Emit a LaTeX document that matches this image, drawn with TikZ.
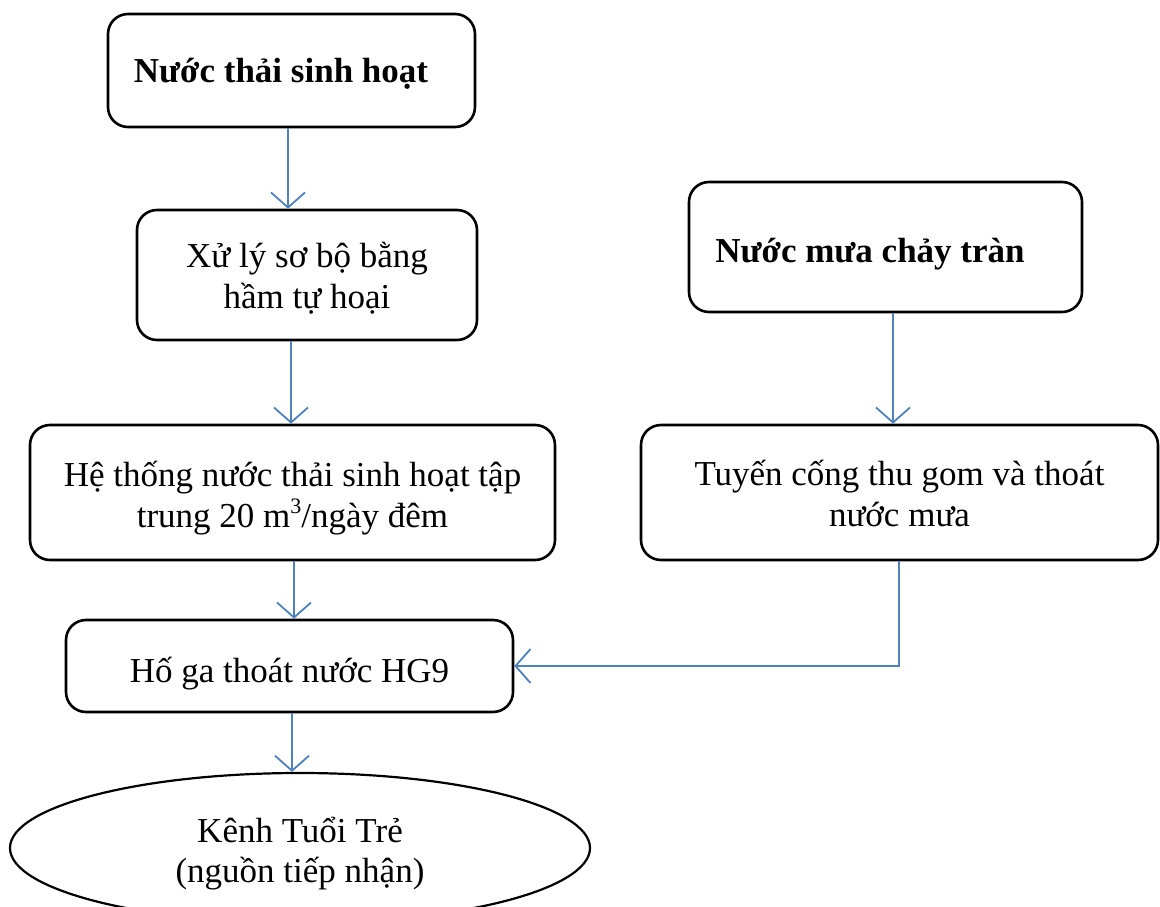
\documentclass[tikz,border=0pt]{standalone}
\usepackage{fontspec}
\setmainfont{Liberation Serif}
\usetikzlibrary{arrows.meta,shapes.geometric}
\definecolor{flowblue}{RGB}{79,129,189}
\newcommand{\cubed}{\raisebox{14pt}{\fontsize{22}{22}\selectfont 3}}
% struts that fix the height of the first line and the depth of the last
\newcommand{\tallstrut}[1]{\rule{0pt}{#1pt}}
\newcommand{\deepstrut}[1]{\rule[-#1pt]{0pt}{0pt}}
% fixed line pitch, whatever the accents
\newcommand{\fixedlines}{\lineskiplimit=-60pt\lineskip=0pt}
\tikzset{
  stagebox/.style={draw=black, line width=2.6pt, rounded corners=20pt,
    inner sep=0pt, align=center, font=\fontsize{35}{41}\selectfont\fixedlines},
  headbox/.style={stagebox, font=\fontsize{35}{41}\selectfont\bfseries},
  sinkshape/.style={draw=black, line width=2.2pt, ellipse, inner sep=0pt,
    align=center, font=\fontsize{35}{40}\selectfont\fixedlines},
  flow/.style={draw=flowblue, line width=1.8pt,
    -{Straight Barb[length=15pt,width=34pt,line width=1.8pt]}}
}
\begin{document}
\begin{tikzpicture}[x=1pt,y=-1pt]
\useasboundingbox (0,0) rectangle (1160,907);

% left branch: domestic wastewater
\node[headbox, minimum width=367pt, minimum height=113pt,
      text height=25pt, text depth=0pt] (src) at (291.5,70.5)
  {Nước thải sinh hoạt\hspace*{21pt}};
\node[stagebox, minimum width=340pt, minimum height=130pt] (tank) at (307,275)
  {\tallstrut{40}Xử lý sơ bộ bằng\\hầm tự hoại\deepstrut{14}};
\node[stagebox, minimum width=525pt, minimum height=135pt] (plant) at (292.5,492.5)
  {\tallstrut{42}Hệ thống nước thải sinh hoạt tập\\trung 20 m\cubed/ngày đêm\deepstrut{14}};
\node[stagebox, minimum width=447pt, minimum height=92pt,
      text height=32pt, text depth=0pt] (pit) at (289.5,666)
  {Hố ga thoát nước HG9};
\node[sinkshape, minimum width=580pt, minimum height=150pt] (canal) at (300,848)
  {\tallstrut{38}Kênh Tuổi Trẻ\\(nguồn tiếp nhận)\deepstrut{10}};

% right branch: storm water
\node[headbox, minimum width=393pt, minimum height=130pt,
      text height=30pt, text depth=0pt] (rain) at (885.5,247)
  {Nước mưa chảy tràn\hspace*{31pt}};
\node[stagebox, minimum width=517pt, minimum height=135pt] (sewer) at (899.5,492.5)
  {\tallstrut{40}Tuyến cống thu gom và thoát\\nước mưa\deepstrut{14}};

% connectors
\draw[flow] (src.south -| 288,0) -- (tank.north -| 288,0);
\draw[flow] (tank.south -| 291,0) -- (plant.north -| 291,0);
\draw[flow] (plant.south -| 294,0) -- (pit.north -| 294,0);
\draw[flow] (pit.south -| 292,0) -- (canal.north -| 292,0);
\draw[flow] (rain.south -| 893,0) -- (sewer.north -| 893,0);
\draw[flow] (sewer.south -| 899,0) |- (pit.east);
\end{tikzpicture}
\end{document}
